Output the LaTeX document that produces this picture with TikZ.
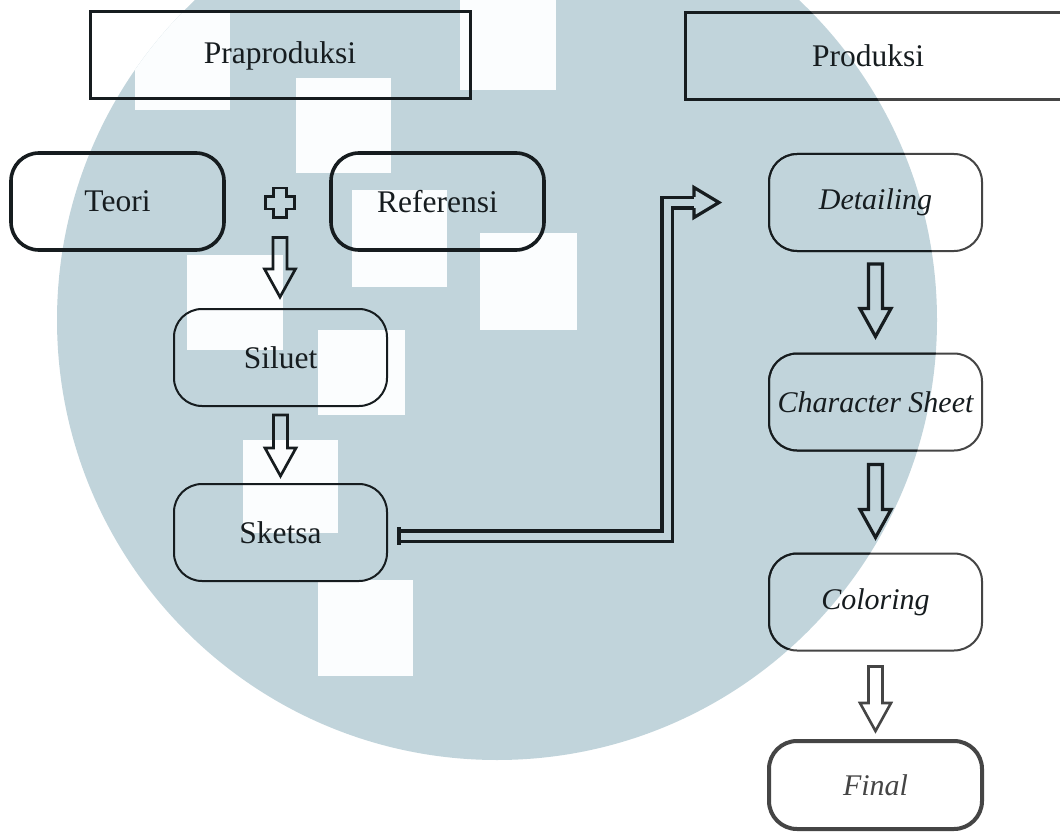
\documentclass[tikz,border=0pt]{standalone}
\usepackage{fontspec}
\setmainfont{Liberation Serif}
\usetikzlibrary{calc}
\definecolor{wm}{HTML}{C1D4DB}
\definecolor{wmhole}{HTML}{FBFDFE}
\definecolor{ink}{HTML}{161C1F}
\definecolor{inkgray}{HTML}{454545}
\newcommand\hollowarrow[3][]{%
  \draw[harrow,#1] let \p1=(#2), \p2=(#3) in
    (\x1-7pt,\y1) -- (\x1+7pt,\y1) -- (\x1+7pt,\y2+28pt) -- (\x1+15.5pt,\y2+28pt)
    -- (\x1,\y2) -- (\x1-15.5pt,\y2+28pt) -- (\x1-7pt,\y2+28pt) -- cycle;}
\begin{document}
\begin{tikzpicture}[x=1pt,y=-1pt,
  lbl/.style={font=\fontsize{31.5}{34}\selectfont, text=ink, inner sep=0pt, outer sep=0pt},
  itl/.style={font=\fontsize{30}{34}\selectfont\itshape},
  sqbox/.style={lbl, draw=ink, line width=3pt, minimum height=87pt},
  rbox/.style={lbl, draw=ink, line width=2pt, rounded corners=28pt,
               minimum width=213pt, minimum height=97pt},
  rthick/.style={rbox, line width=3.6pt},
  harrow/.style={draw=ink, line width=2.7pt, line join=miter},
  dbl/.style={draw=ink, line width=3.5pt, double=wm, double distance=7pt, line join=miter},
  hole/.style={fill=wmhole}
]
\useasboundingbox (0,0) rectangle (1060,832);
\fill[white] (0,0) rectangle (1060,832);
\clip (0,0) rectangle (1060,832);

% watermark background
\fill[wm] (497,320) circle (440pt);
\begin{scope}
\clip (497,320) circle (440pt);
\fill[hole] (135,12) rectangle (230,110);
\fill[hole] (296,78) rectangle (391,173);
\fill[hole] (460,-5) rectangle (556,90);
\fill[hole] (187,255) rectangle (283,350);
\fill[hole] (352,190) rectangle (447,287);
\fill[hole] (480,233) rectangle (577,330);
\fill[hole] (318,330) rectangle (405,415);
\fill[hole] (243,440) rectangle (338,533);
\fill[hole] (318,580) rectangle (413,676);
\end{scope}

% header boxes
\node[sqbox, minimum width=380pt] (prapro) at (280,55.5) {Praproduksi};
\node[sqbox, draw=inkgray, minimum width=390pt] (produksi) at (880,56) {\hspace*{-24pt}Produksi};

% left column
\node[rthick] (teori) at (117.5,201.5) {Teori};
\node[rthick] (referensi) at (437.5,201.5) {Referensi};
\coordinate (plus) at (280,202.5);
\draw[ink, line width=2.8pt, line join=miter]
  ($(plus)+(-6.4,-14.6)$) -- ($(plus)+(6.4,-14.6)$) -- ($(plus)+(6.4,-6.4)$) -- ($(plus)+(14.6,-6.4)$)
  -- ($(plus)+(14.6,6.4)$) -- ($(plus)+(6.4,6.4)$) -- ($(plus)+(6.4,14.6)$) -- ($(plus)+(-6.4,14.6)$)
  -- ($(plus)+(-6.4,6.4)$) -- ($(plus)+(-14.6,6.4)$) -- ($(plus)+(-14.6,-6.4)$) -- ($(plus)+(-6.4,-6.4)$) -- cycle;
\node[rbox] (siluet) at (280.5,357.5) {Siluet};
\node[rbox] (sketsa) at (280.5,532.5) {Sketsa};
\hollowarrow{$(plus)+(0,35)$}{$(siluet.north)+(0,-12)$}
\hollowarrow{$(siluet.south)+(0,9)$}{$(sketsa.north)+(0,-8)$}

% right column
\node[rbox, itl, draw=inkgray] (detailing) at (875.5,202.5) {Detailing};
\node[rbox, itl, draw=inkgray] (cs) at (875.5,402) {Character Sheet};
\node[rbox, itl, draw=inkgray] (coloring) at (875.5,602) {Coloring};
\node[rbox, itl, draw=inkgray, line width=4pt, text=inkgray, minimum height=88pt] (final) at (875.5,785) {Final};
\hollowarrow[line width=3.2pt]{$(detailing.south)+(0,13)$}{$(cs.north)+(0,-17)$}
\hollowarrow[line width=3.2pt]{$(cs.south)+(0,14)$}{$(coloring.north)+(0,-16)$}
\hollowarrow[draw=inkgray, line width=2.6pt]{$(coloring.south)+(0,16)$}{$(final.north)+(0,-10)$}

% borders look darker where the watermark lies over them
\begin{scope}
\clip (497,320) circle (440pt);
\draw[ink, line width=3pt] (produksi.north west) rectangle (produksi.south east);
\foreach \b in {detailing,cs,coloring}
  \draw[ink, line width=2pt, rounded corners=28pt] (\b.north west) rectangle (\b.south east);
\end{scope}

% double connector Sketsa -> Detailing
\coordinate (cstart) at ($(sketsa.east)+(12,3.5)$);
\coordinate (cend) at ($(detailing.west)+(-75,0)$);
\draw[dbl] (cstart) -| ($(cend)+(-27,0)$) -- (cend);
\draw[ink, line width=3.5pt] ($(cstart)+(0,-8.75)$) -- ($(cstart)+(0,8.75)$);
\draw[ink, line width=3.2pt, line join=miter]
  ($(cend)+(0,-5.6)$) -- ($(cend)+(0,-15)$) -- ($(cend)+(25,0)$) -- ($(cend)+(0,15)$) -- ($(cend)+(0,5.6)$);
\end{tikzpicture}
\end{document}
